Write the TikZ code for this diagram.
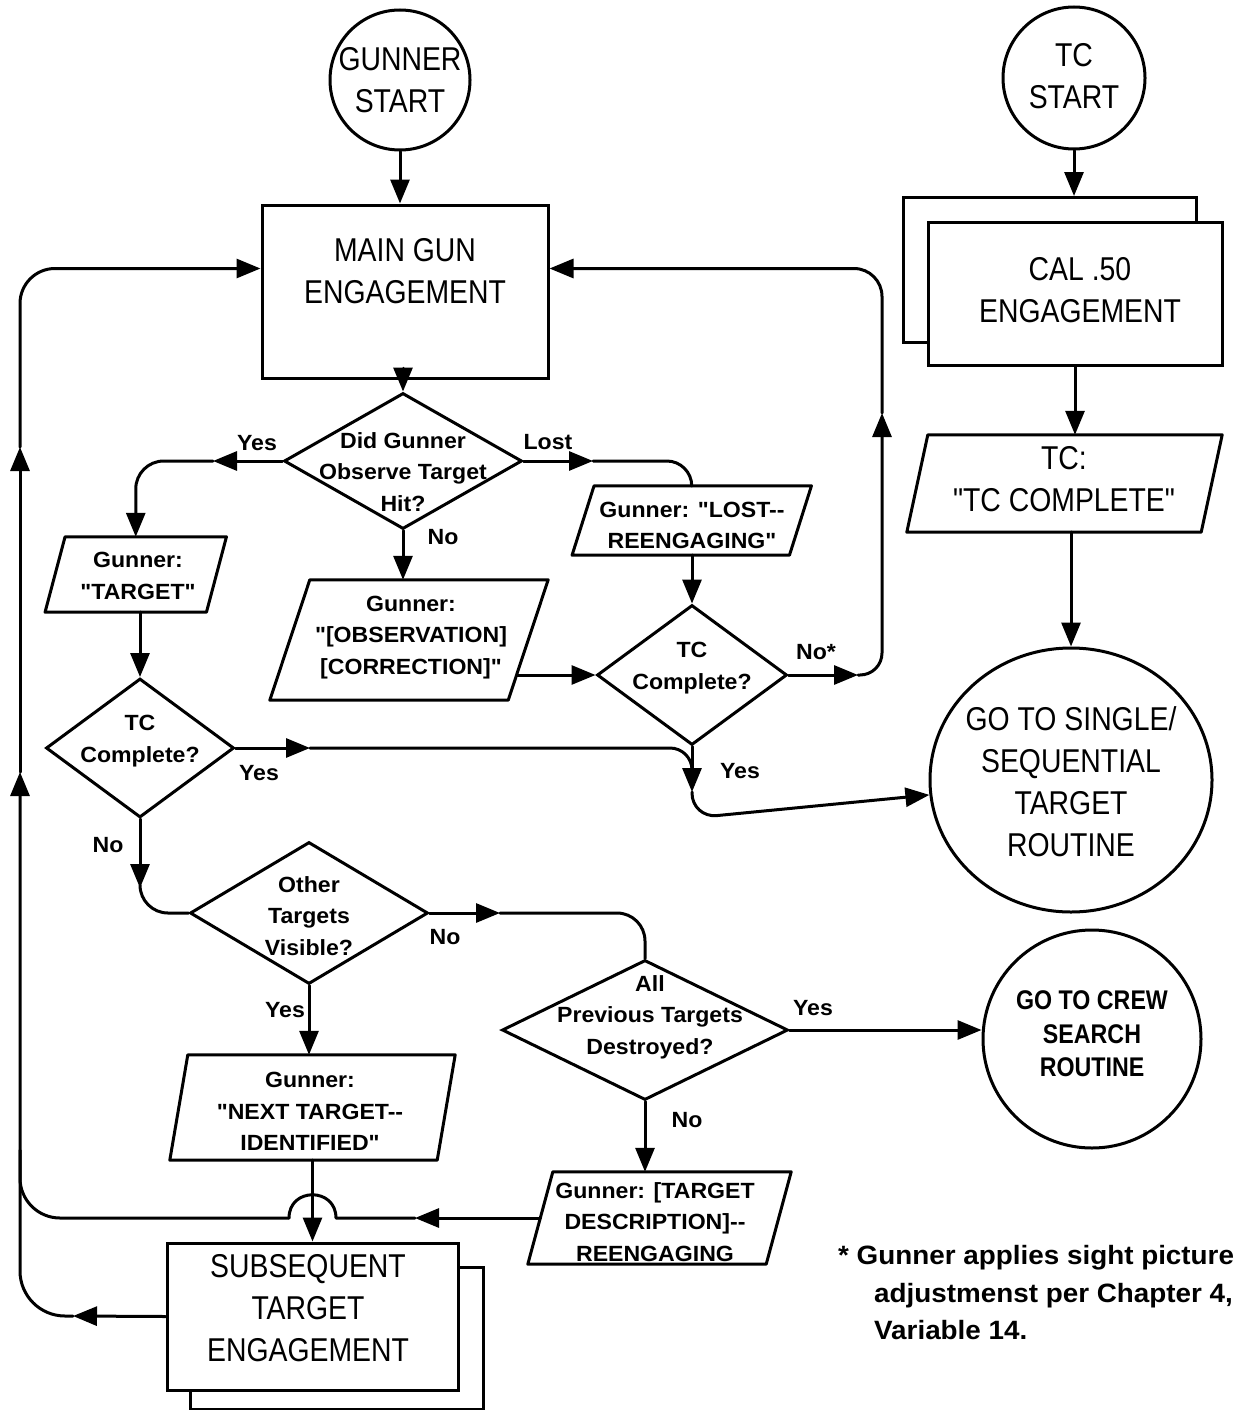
\documentclass[tikz,border=0pt]{standalone}
\usepackage{fontspec}
\setmainfont{Liberation Sans}[Ligatures=TeXOff]
\newfontfamily\plotfont{Liberation Sans}[FakeStretch=0.86,Ligatures=TeXOff]
\newfontfamily\labfont{Liberation Sans}[FakeStretch=1.05,Ligatures=TeXOff]
\usetikzlibrary{shapes.geometric,arrows.meta,calc}

% parallelogram drawn around a plain rectangle node; #2 = half of the slant
\newcommand\slantbox[2]{%
  \draw[ln,fill=white] ($(#1.north west)+(#2,0)$) -- ($(#1.north east)+(#2,0)$)
    -- ($(#1.south east)-(#2,0)$) -- ($(#1.south west)-(#2,0)$) -- cycle;}

\tikzset{
  ln/.style={line width=3pt, line join=round, line cap=round},
  arr/.style={ln, -{Triangle[length=24pt,width=19pt]}},
  boxshape/.style={draw, line width=3pt, fill=white, rectangle, inner sep=0pt},
  diashape/.style={draw, line width=3pt, diamond, inner sep=0pt},
  roundshape/.style={draw, line width=3pt, circle, inner sep=0pt},
  ovalshape/.style={draw, line width=3pt, ellipse, inner sep=0pt},
  plain/.style={rectangle, inner sep=0pt},
  bigtxt/.style={font=\plotfont\fontsize{33}{42}\selectfont, align=center, inner sep=0pt},
  labtxt/.style={font=\labfont\bfseries\fontsize{22}{31.5}\selectfont, align=center, inner sep=0pt},
  crewtxt/.style={font=\plotfont\bfseries\fontsize{27}{33.5}\selectfont, align=center, inner sep=0pt},
  foottxt/.style={font=\labfont\bfseries\fontsize{26.5}{37.5}\selectfont, inner sep=0pt},
}

\begin{document}
\begin{tikzpicture}[x=1pt,y=-1pt]
\useasboundingbox (0,0) rectangle (1248,1410);

% ---------- start circles ----------
\node[roundshape, minimum size=140pt] (gs) at (400,80) {};
\node[bigtxt] (gst) at (400,80) {GUNNER\\START};
\node[roundshape, minimum size=142pt] (ts) at (1074,78) {};
\node[bigtxt] (tst) at (1074,76) {TC\\START};

% ---------- engagement boxes ----------
\node[boxshape, minimum width=286pt, minimum height=173pt] (main) at (405,291.5) {};
\node[bigtxt] (maint) at (405,271) {MAIN GUN\\ENGAGEMENT};

\node[boxshape, minimum width=293pt, minimum height=145pt] (calback) at (1049.5,270) {};
\node[boxshape, minimum width=294pt, minimum height=143pt] (cal) at (1075,293.5) {};
\node[bigtxt] (calt) at (1080,290) {CAL .50\\ENGAGEMENT};

\node[boxshape, minimum width=293pt, minimum height=142pt] (subback) at (336.5,1338) {};
\node[boxshape, minimum width=291pt, minimum height=147pt] (sub) at (312.5,1316.5) {};
\node[bigtxt] (subt) at (308,1308) {SUBSEQUENT\\TARGET\\ENGAGEMENT};

% ---------- routine circles ----------
\node[ovalshape, minimum width=282pt, minimum height=264pt] (go1) at (1071,780) {};
\node[bigtxt] (go1t) at (1071,781.5) {GO TO SINGLE/\\SEQUENTIAL\\TARGET\\ROUTINE};
\node[roundshape, minimum size=218pt] (crew) at (1092,1039) {};
\node[crewtxt] (crewt) at (1092,1034) {GO TO CREW\\SEARCH\\ROUTINE};

% ---------- decisions ----------
\node[diashape, minimum width=238pt, minimum height=136pt] (d1) at (403,461) {};
\node[labtxt] (d1t) at (403,472) {Did Gunner\\Observe Target\\Hit?};
\node[diashape, minimum width=190pt, minimum height=140pt] (d2) at (692,675) {};
\node[labtxt] (d2t) at (692,668) {TC\\Complete?};
\node[diashape, minimum width=188pt, minimum height=139pt] (d3) at (140,748) {};
\node[labtxt] (d3t) at (140,741) {TC\\Complete?};
\node[diashape, minimum width=238pt, minimum height=142pt] (d4) at (309,913) {};
\node[labtxt] (d4t) at (309,916) {Other\\Targets\\Visible?};
\node[diashape, minimum width=286pt, minimum height=140pt] (d5) at (645,1030) {};
\node[labtxt] (d5t) at (650,1017) {All\\Previous Targets\\Destroyed?};

% ---------- messages ----------
\node[plain, minimum width=161pt, minimum height=75pt] (tgt) at (135.75,574.5) {};
\slantbox{tgt}{10}
\node[labtxt] (tgtt) at (138,576) {Gunner:\\"TARGET"};

\node[plain, minimum width=238pt, minimum height=120pt] (obs) at (409,640) {};
\slantbox{obs}{20}
\node[labtxt] (obst) at (411,637.5) {Gunner:\\"{[}OBSERVATION{]}\\{[}CORRECTION{]}"};

\node[plain, minimum width=217pt, minimum height=69pt] (lost) at (691.75,520.5) {};
\slantbox{lost}{11}
\node[labtxt] (lostt) at (692,525.5) {Gunner: "LOST--\\REENGAGING"};

\node[plain, minimum width=294pt, minimum height=97pt] (tcp) at (1064.5,483.5) {};
\slantbox{tcp}{10.5}
\node[bigtxt] (tcpt) at (1064,479) {TC:\\"TC COMPLETE"};

\node[plain, minimum width=267pt, minimum height=105pt] (next) at (312.5,1107.5) {};
\slantbox{next}{9}
\node[labtxt] (nextt) at (310,1111.5) {Gunner:\\"NEXT TARGET--\\IDENTIFIED"};

\node[plain, minimum width=238pt, minimum height=92pt] (desc) at (659.5,1218) {};
\slantbox{desc}{12.5}
\node[labtxt] (desct) at (655,1222) {Gunner: {[}TARGET\\DESCRIPTION{]}--\\REENGAGING};

% ---------- bend points ----------
\coordinate (mainL) at ($(main.north west)+(0,65)$);
\coordinate (mainR) at ($(main.north east)+(0,65)$);
\coordinate (y1) at (213,461);
\coordinate (l1) at (593,461);
\coordinate (o1) at ($(obs.east)+(-11.7,35)$);
\coordinate (n1) at (858,675);
\coordinate (n2) at (882,413);
\coordinate (ya) at (692,792);
\coordinate (yb) at (692,818);
\coordinate (yc) at (692,770);
\coordinate (y3) at (310,748);
\coordinate (n3) at (140,888);
\coordinate (n4) at (500,913);
\coordinate (da) at (415,1218);
\coordinate (hr) at (336,1218);
\coordinate (hl) at (289,1218);
\coordinate (sa) at (73,1316);
\coordinate (la) at (20,772);
\coordinate (lb) at (20,447);
\coordinate (lj) at (20,1150);

% ---------- connectors ----------
\draw[arr] (gs.south) -- (gs.south |- main.north);
\draw[arr] (d1.north |- main.south) -- (d1.north);

\draw[arr] (d1.west) -- (y1);
\draw[arr, rounded corners=28pt] (y1) -- (tgt.north |- y1) -- (tgt.north);
\draw[arr] (d1.east) -- (l1);
\draw[ln, rounded corners=25pt] (l1) -- (lost.north |- l1) -- (lost.north);
\draw[arr] (d1.south) -- (d1.south |- obs.north);

\draw[arr] (d2.north |- lost.south) -- (d2.north);
\draw[arr] (o1) -- (d2.west);

\draw[arr] (d2.east) -- (n1);
\draw[arr, rounded corners=22pt] (n1) -- (n2 |- n1) -- (n2);
\draw[arr, rounded corners=28pt] (n2) -- (n2 |- mainR) -- (mainR);

\draw[arr] (d2.south) -- (ya);
\draw[arr, rounded corners=25pt] (ya) -- (yb) -- (go1.186);

\draw[arr] (d3.north |- tgt.south) -- (d3.north);
\draw[arr] (d3.east) -- (y3);
\draw[ln, rounded corners=22pt] (y3) -- (yc |- y3) -- (yc);
\draw[arr] (d3.south) -- (n3);
\draw[ln, rounded corners=28pt] (n3) -- (n3 |- d4.west) -- (d4.west);

\draw[arr] (d4.east) -- (n4);
\draw[ln, rounded corners=28pt] (n4) -- (d5.north |- n4) -- (d5.north);
\draw[arr] (d4.south) -- (d4.south |- next.north);

\draw[arr] (d5.east) -- (d5.east -| crew.west);
\draw[arr] (d5.south) -- (d5.south |- desc.north);

% message back to the left loop, hopping over the next-target line
\draw[arr] (desc.west) -- (da);
\draw[ln] (da) -- (hr) .. controls ($(hr)+(0,-31)$) and ($(hl)+(0,-31)$) .. (hl);
\draw[ln, rounded corners=40pt] (hl) -- (lj |- hl) -- (lj);

\draw[arr] (next.south) -- (next.south |- sub.north);

% subsequent engagement back to main gun engagement
\draw[arr] (sub.west) -- (sa);
\draw[arr, rounded corners=45pt] (sa) -- (la |- sa) -- (la);
\draw[arr] (la) -- (lb);
\draw[arr, rounded corners=35pt] (lb) -- (lb |- mainL) -- (mainL);

% TC side
\draw[arr] (ts.south) -- (ts.south |- calback.north);
\draw[arr] (cal.south) -- (cal.south |- tcp.north);
\draw[arr] (go1.north |- tcp.south) -- (go1.north);

% ---------- branch labels ----------
\node[labtxt] (lyes1) at (257,443) {Yes};
\node[labtxt] (llost) at (548,442) {Lost};
\node[labtxt] (lno1) at (443,537) {No};
\node[labtxt] (lno2) at (816,652) {No*};
\node[labtxt] (lyes2) at (740,771) {Yes};
\node[labtxt] (lyes3) at (259,773) {Yes};
\node[labtxt] (lno3) at (108,845) {No};
\node[labtxt] (lno4) at (445,937) {No};
\node[labtxt] (lyes4) at (285,1010) {Yes};
\node[labtxt] (lyes5) at (813,1008) {Yes};
\node[labtxt] (lno5) at (687,1120) {No};

% ---------- footnote ----------
\node[foottxt, anchor=base west] (fn1) at (838,1264) {* Gunner applies sight picture};
\node[foottxt, anchor=base west] (fn2) at (874,1302) {adjustmenst per Chapter 4,};
\node[foottxt, anchor=base west] (fn3) at (874,1339) {Variable 14.};
\end{tikzpicture}
\end{document}
